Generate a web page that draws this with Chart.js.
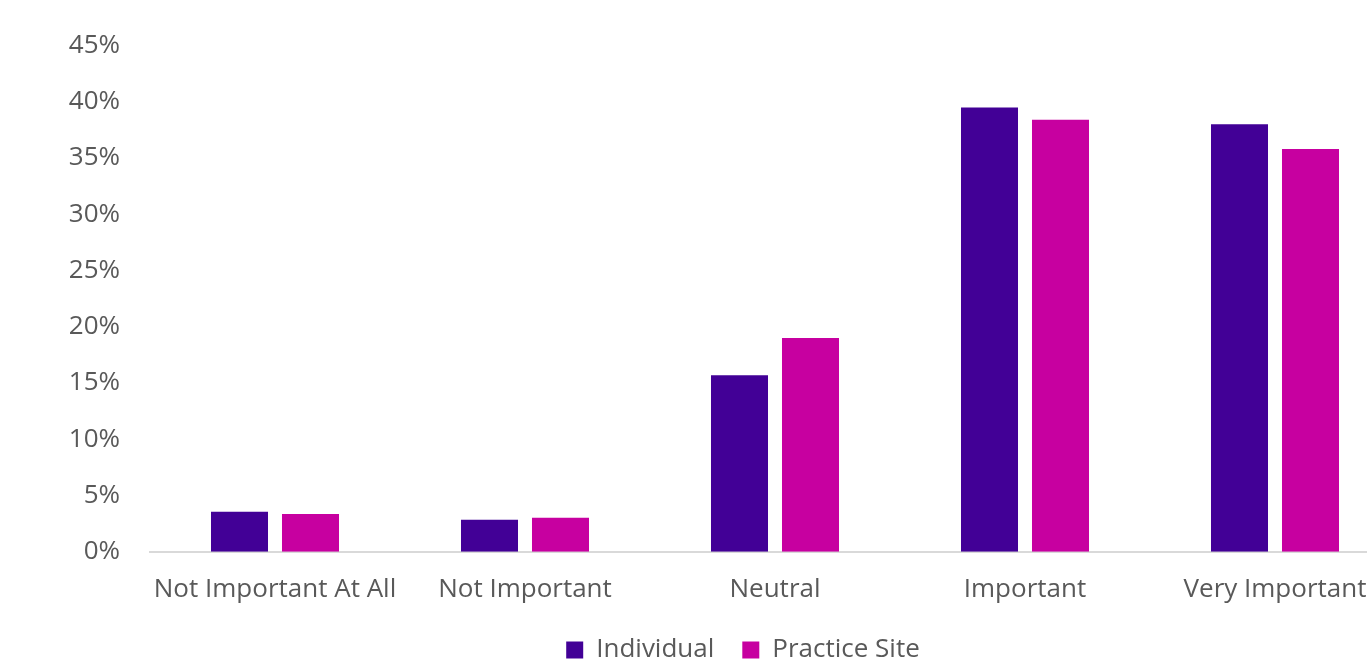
<!DOCTYPE html>
<html>
<head>
<meta charset="utf-8">
<script src="https://cdn.jsdelivr.net/npm/chart.js@4/dist/chart.umd.min.js"></script>
<style>
  html, body { margin: 0; padding: 0; background: #fff; overflow: hidden; }
  #wrap { width: 1367px; height: 663px; overflow: hidden; }
  #box { width: 1486px; height: 663px; }
</style>
</head>
<body>
<div id="wrap"><div id="box"><canvas id="chart"></canvas></div></div>
<script>
  // data
  const categories = ['Not Important At All', 'Not Important', 'Neutral', 'Important', 'Very Important'];
  const individual = [3.55, 2.84, 15.7, 39.5, 38.0];
  const practiceSite = [3.37, 3.02, 19.0, 38.4, 35.8];
  const yMax = 45;
  const yStep = 5;

  const FONT = '"Open Sans", sans-serif';
  const TEXT = '#595959';

  new Chart(document.getElementById('chart'), {
    type: 'bar',
    data: {
      labels: categories,
      datasets: [{
        label: 'Individual',
        data: individual,
        backgroundColor: '#420096'
      }, {
        label: 'Practice Site',
        data: practiceSite,
        backgroundColor: '#c700a0'
      }]
    },
    options: {
      responsive: true,
      maintainAspectRatio: false,
      animation: false,
      categoryPercentage: 0.568,
      barPercentage: 0.803,
      layout: { padding: { top: 36, right: 0, bottom: -10, left: 0 } },
      plugins: {
        tooltip: { enabled: false },
        legend: {
          position: 'bottom',
          labels: {
            font: { family: FONT, size: 26 },
            color: TEXT,
            boxWidth: 17,
            boxHeight: 17,
            padding: 28
          }
        }
      },
      scales: {
        x: {
          grid: { display: false, drawTicks: false },
          border: { display: true, color: '#d9d9d9', width: 2 },
          ticks: { font: { family: FONT, size: 26 }, color: TEXT, padding: 22, maxRotation: 0 },
          afterFit: s => { s.height -= 18; }
        },
        y: {
          min: 0,
          max: yMax,
          grid: { display: false, drawTicks: false },
          border: { display: false },
          ticks: {
            stepSize: yStep,
            font: { family: FONT, size: 26 },
            color: TEXT,
            padding: 30,
            callback: v => v + '%'
          },
          afterFit: s => { s.width = 150; }
        },
        // empty spacer on the right, the plot runs past the visible edge
        yRight: {
          position: 'right',
          grid: { display: false, drawTicks: false },
          border: { display: false },
          ticks: { display: false },
          afterFit: s => { s.width = 86; }
        }
      }
    }
  });
</script>
</body>
</html>
